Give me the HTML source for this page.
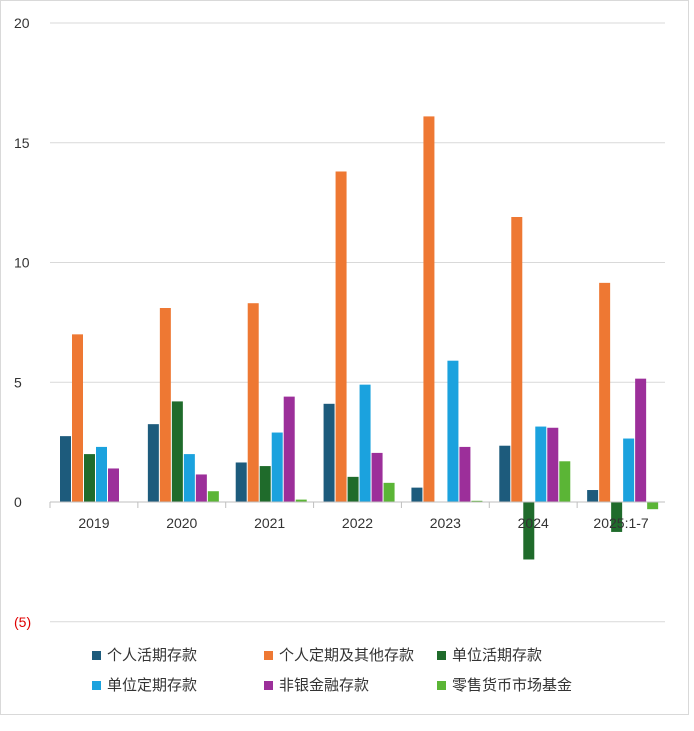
<!DOCTYPE html>
<html><head><meta charset="utf-8">
<style>
body{margin:0;background:#fff;font-family:"Liberation Sans","Noto Sans CJK SC",sans-serif;}
#wrap{position:relative;width:694px;height:726px;}
</style></head>
<body>
<div id="wrap">
<svg id="chart" width="694" height="726"></svg>
</div>
<script>
const categories=["2019","2020","2021","2022","2023","2024","2025:1-7"];
const seriesNames=["个人活期存款","个人定期及其他存款","单位活期存款","单位定期存款","非银金融存款","零售货币市场基金"];
const s1=[2.75,3.25,1.65,4.1,0.6,2.35,0.5];
const s2=[7.0,8.1,8.3,13.8,16.1,11.9,9.15];
const s3=[2.0,4.2,1.5,1.05,0,-2.4,-1.25];
const s4=[2.3,2.0,2.9,4.9,5.9,3.15,2.65];
const s5=[1.4,1.15,4.4,2.05,2.3,3.1,5.15];
const s6=[0,0.45,0.1,0.8,0.05,1.7,-0.3];
const yTicks=[20,15,10,5,0,-5];
const yTickLabels=["20","15","10","5","0","(5)"];
const colors=["#1d5b7c","#ee7833","#1f6b2b","#1ba2de","#9c2f9a","#5bb536"];
const series=[s1,s2,s3,s4,s5,s6];
const NS="http://www.w3.org/2000/svg";
const svg=document.getElementById('chart');
const x0=50,x1=665;
const y=v=>502-v*23.95;
const catW=(x1-x0)/categories.length;
function mk(t,a){const e=document.createElementNS(NS,t);for(const k in a)e.setAttribute(k,a[k]);svg.appendChild(e);return e;}
const fr=mk('rect',{x:0.5,y:0.5,width:688,height:714,fill:'none',stroke:'#d9d9d9'});


yTicks.forEach((t,i)=>{
  if(t!==0){const g=mk('line',{x1:x0,x2:x1,y1:y(t),y2:y(t),stroke:'#d9d9d9'});
  
  }
  const tx=mk('text',{x:14,y:y(t)+5,'font-size':14,fill:t<0?'#e00000':'#333'});
  tx.textContent=yTickLabels[i];
  
  
});
categories.forEach((c,i)=>{
  const cx=x0+catW*(i+0.5);
  series.forEach((s,j)=>{
    const v=s[i];const bx=x0+catW*i+10+j*12;
    const r=mk('rect',{x:bx,y:Math.min(y(v),y(0)),width:11,height:Math.abs(y(v)-y(0)),fill:colors[j]});
    
    
  });
  const tk=mk('line',{x1:x0+catW*i,x2:x0+catW*i,y1:502,y2:508,stroke:'#bfbfbf'});
  
  
  const tx=mk('text',{x:cx,y:528,'font-size':14,fill:'#333','text-anchor':'middle'});
  tx.textContent=c;
  
  
});
const ax=mk('line',{x1:x0,x2:x1,y1:502,y2:502,stroke:'#bfbfbf'});


const lx=[92,264,437],ly=[660,690];
seriesNames.forEach((n,j)=>{
  const px=lx[j%3],py=ly[Math.floor(j/3)];
  const r=mk('rect',{x:px,y:py-9,width:9,height:9,fill:colors[j]});
  
  
  const t=mk('text',{x:px+15,y:py,'font-size':15,fill:'#333'});
  t.textContent=n;
  
  
});
</script>
</body></html>
